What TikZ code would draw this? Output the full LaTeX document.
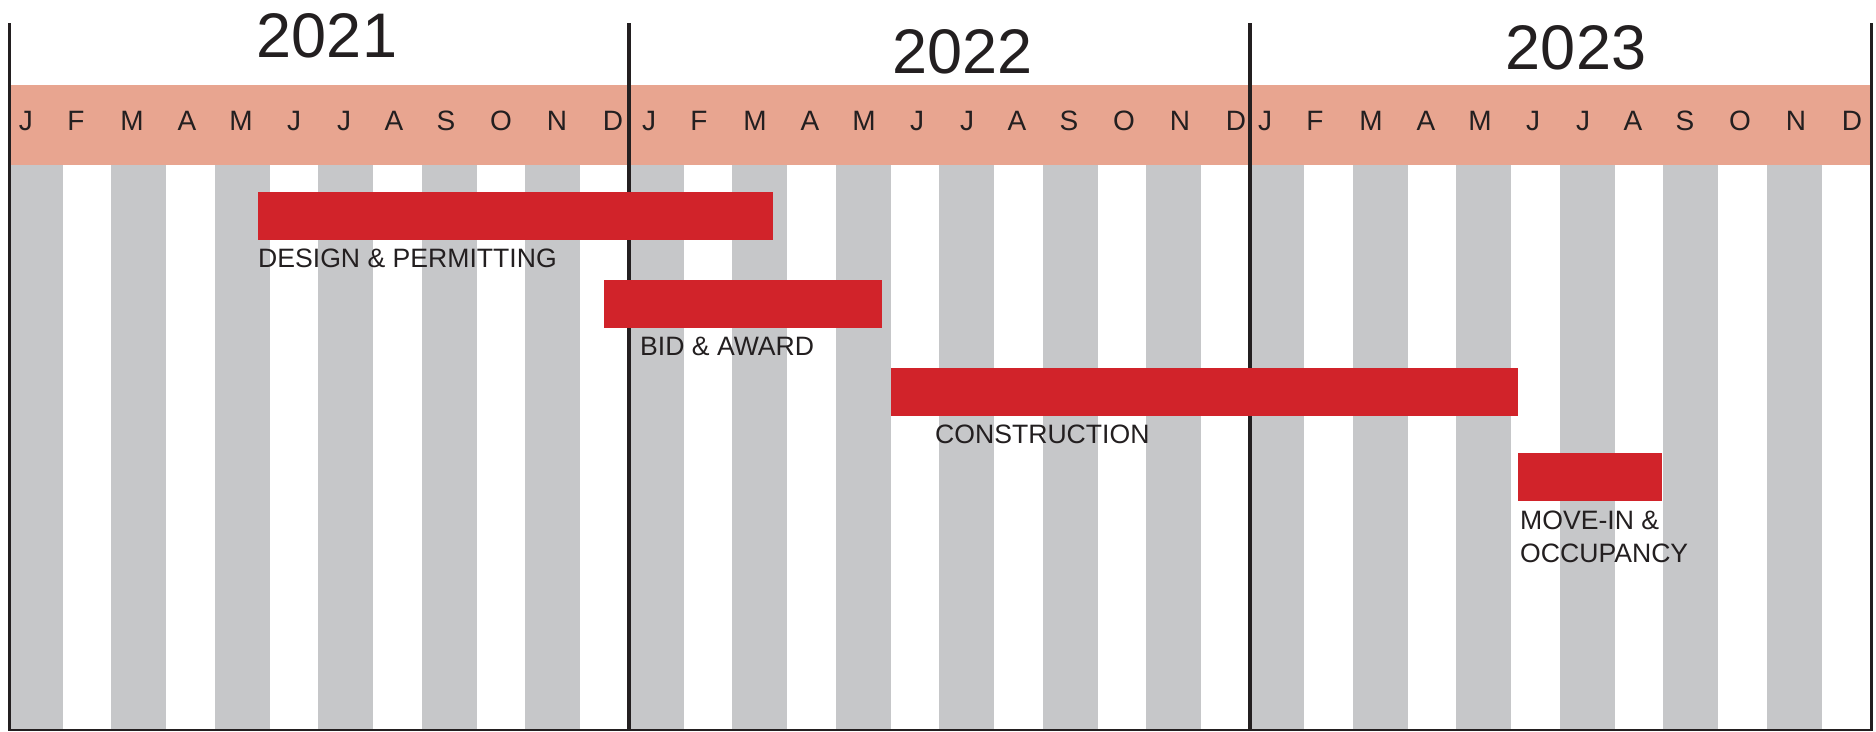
\documentclass[tikz,border=0pt]{standalone}
\usepackage{fontspec}
\setmainfont{Liberation Sans}
\usetikzlibrary{positioning}

\definecolor{bandcol}{HTML}{E8A590}
\definecolor{stripecol}{HTML}{C6C7C9}
\definecolor{barcol}{HTML}{D1232A}
\definecolor{inkcol}{HTML}{231F20}

\begin{document}
\begin{tikzpicture}[x=1pt, y=-1pt,
        yearlbl/.style={font=\fontsize{63}{63}\selectfont, text=inkcol, inner sep=0pt, anchor=base},
        monthlbl/.style={font=\fontsize{28}{28}\selectfont, text=inkcol, inner sep=0pt, anchor=base},
        tasklbl/.style={font=\fontsize{26.6}{33}\selectfont, text=inkcol, inner sep=0pt, anchor=base west, align=left}]
        \useasboundingbox (0,0) rectangle (1876,731);

        % 灰色竖条
        \foreach \k in {0,...,17}
            \fill[stripecol] ({8+103.45*\k},165) rectangle ++(55,565);

        % 月份色带
        \fill[bandcol] (9,85) rectangle (1872,165);

        % 年份分隔线
        \foreach \x in {9.5, 629, 1250, 1871.5}
            \draw[inkcol, line width=3.5pt] (\x,23) -- (\x,731);
        \draw[inkcol, line width=1.5pt] (9.5,730) -- (1871.5,730); % 底线

        % 年份
        \node[yearlbl] (y2021) at (327,57) {2021};
        \node[yearlbl] (y2022) at (962.5,73) {2022};
        \node[yearlbl] (y2023) at (1576,69) {2023};

        % 月份字母
        \foreach \s in {9, 632, 1248}
            \foreach \m/\o [count=\i] in {J/17, F/67, M/123, A/178, M/232, J/285, J/335, A/385, S/437, O/492, N/548, D/604}
                \node[monthlbl] (m-\s-\i) at (\s+\o,130) {\m};

        % 任务条
        \fill[barcol] (258,192) rectangle (773,239.5);   % 设计
        \fill[barcol] (604,280) rectangle (882,327.5);   % 招标
        \fill[barcol] (891,368) rectangle (1518,416);    % 施工
        \fill[barcol] (1518,453) rectangle (1662,501);   % 入住

        % 任务名称
        \node[tasklbl] (design) at (258,267) {DESIGN \& PERMITTING};
        \node[tasklbl] (bid) at (640,355.5) {BID \& AWARD};
        \node[tasklbl] (build) at (935,443) {CONSTRUCTION};
        \node[tasklbl] (movein) at (1520,562) {MOVE-IN \&\\OCCUPANCY}; % 末行基线
    \end{tikzpicture}
\end{document}
